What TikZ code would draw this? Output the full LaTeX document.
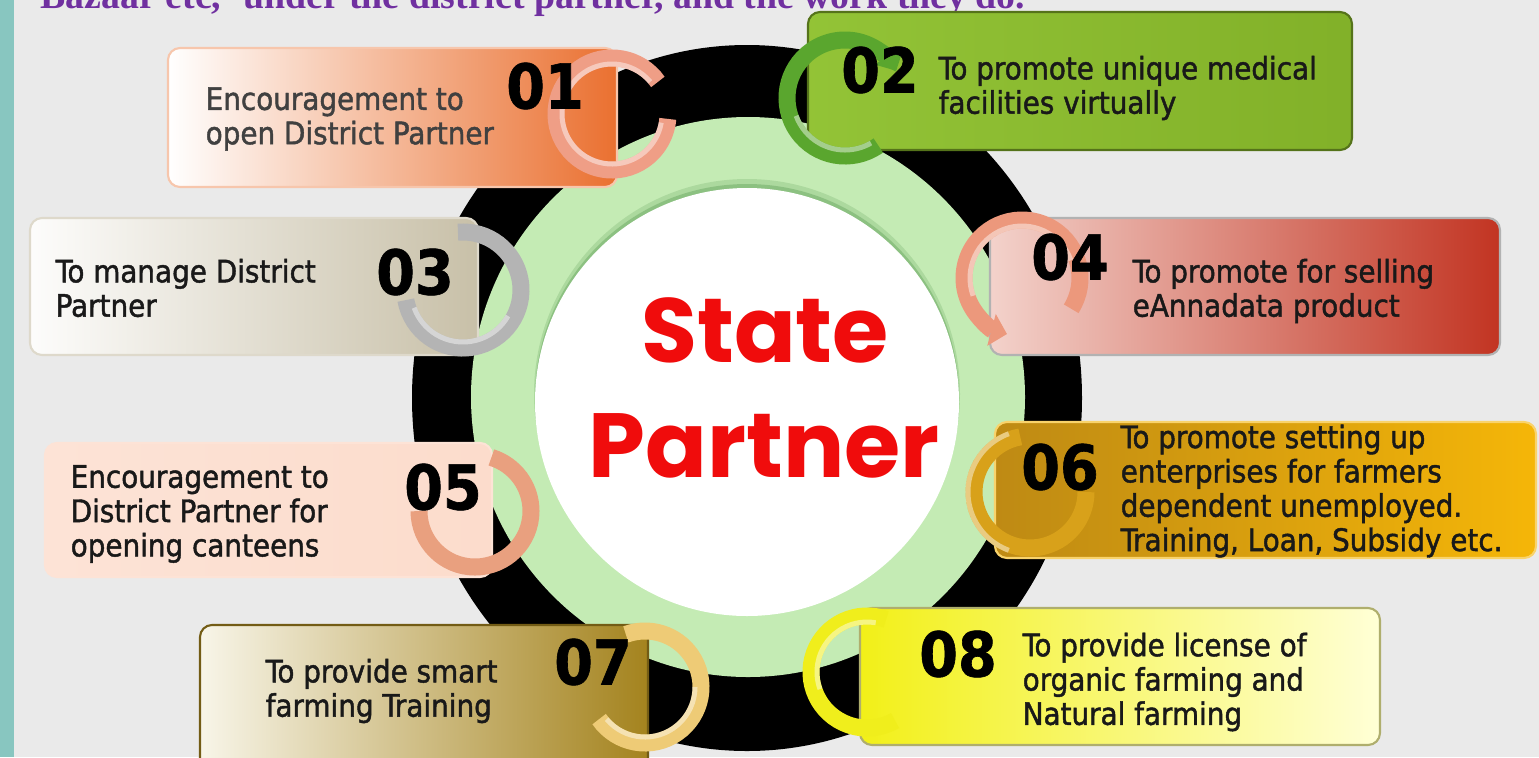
\documentclass[tikz,border=0pt]{standalone}
\usepackage{fontspec}
\usetikzlibrary{arrows.meta}
\newfontfamily\pfont[FakeBold=1.4]{DejaVu Sans Condensed}
\newfontfamily\nfont[BoldFeatures={FakeBold=1}]{DejaVu Sans Condensed}
\newfontfamily\sfont{Poppins}
\newfontfamily\tfont{Liberation Serif}
\definecolor{bggray}{RGB}{234,234,234}
\definecolor{stripteal}{RGB}{136,198,192}
\definecolor{tpurple}{RGB}{112,48,160}
\definecolor{sred}{RGB}{240,12,12}
\definecolor{ringgreen}{RGB}{196,235,180}
\definecolor{porange}{RGB}{234,112,48}
\definecolor{pgreen}{RGB}{141,192,44}
\definecolor{pbeige}{RGB}{200,192,168}
\definecolor{pred}{RGB}{194,52,34}
\definecolor{ppink}{RGB}{243,210,203}
\definecolor{ppeach}{RGB}{252,220,204}
\definecolor{pgold}{RGB}{245,182,8}
\definecolor{pgolddark}{RGB}{190,138,20}
\definecolor{polive}{RGB}{164,131,30}
\definecolor{pyellow}{RGB}{242,240,24}
\definecolor{pcream}{RGB}{255,255,214}
\definecolor{hoopa}{RGB}{239,158,134}
\definecolor{hoopb}{RGB}{90,166,46}
\definecolor{hoopc}{RGB}{180,180,180}
\definecolor{hoopd}{RGB}{236,152,124}
\definecolor{hoope}{RGB}{233,160,127}
\definecolor{hoopf}{RGB}{216,161,26}
\definecolor{hoopg}{RGB}{238,203,118}
\definecolor{hooph}{RGB}{240,238,28}

\begin{document}
\begin{tikzpicture}[x=0.01cm,y=0.01cm,
  panel/.style={rounded corners=0.12cm, draw=#1, line width=0.6pt},
  ptext/.style={font=\pfont\fontsize{8.8}{9.76}\selectfont, text=black!90, align=left, anchor=west, inner sep=0pt},
  pnum/.style={font=\nfont\bfseries\fontsize{17.6}{18}\selectfont, inner sep=0pt},
  hoop/.style={line width=0.17cm, draw=#1},
  gleam/.style={line width=0.05cm, draw=white, opacity=0.45},
  tip/.style={-{Triangle[length=0.16cm,width=0.32cm]}}]
\clip (0,-757) rectangle (1539,0);
\fill[bggray] (0,-757) rectangle (1539,0);
\fill[stripteal] (0,-757) rectangle (14,0);
\node[anchor=base west, font=\tfont\bfseries\fontsize{10.75}{12}\selectfont, text=tpurple, inner sep=0pt] (title) at (40,-8) {Bazaar etc, ‘under the district partner, and the work they do.};

\fill[black] (747,-398) ellipse [x radius=335, y radius=353];
\fill[ringgreen] (748,-397) ellipse [x radius=277, y radius=280];
\fill[green!35!black, opacity=0.12] (747,-394) ellipse [x radius=213, y radius=215];
\fill[green!35!black, opacity=0.18] (747,-398) ellipse [x radius=212, y radius=214];
\fill[white] (747,-402) ellipse [x radius=212, y radius=214];
\node[anchor=base, font=\sfont\bfseries\fontsize{25.9}{30}\selectfont, text=sred, inner sep=0pt] (state) at (765,-362) {State};
\node[anchor=base, font=\sfont\bfseries\fontsize{25.9}{30}\selectfont, text=sred, inner sep=0pt] (partner) at (764,-477) {Partner};

\shade[panel=porange!40, left color=white, middle color=porange!45, right color=porange] (168,-48) rectangle (617,-187);
\shade[panel=pgreen!60!black, left color=pgreen!95!white, right color=pgreen!92!black] (808,-12) rectangle (1352,-150);
\shade[panel=pbeige!60, left color=white!96!pbeige, right color=pbeige] (30,-218) rectangle (478,-355);
\shade[panel=gray!60, left color=ppink, middle color=pred!45!white, right color=pred] (990,-218) rectangle (1500,-355);
\shade[panel=ppeach!80, left color=ppeach!80!white, right color=ppeach] (45,-443) rectangle (492,-577);
\shade[panel=pgold!60!white, left color=pgolddark, right color=pgold] (995,-422) rectangle (1536,-558);
\shade[panel=polive!70!black, left color=pcream!60!polive!20, middle color=polive!85!white, right color=polive] (200,-625) rectangle (648,-770);
\shade[panel=pyellow!50!black!60, left color=pyellow, right color=pcream] (860,-608) rectangle (1380,-745);

\draw[hoop=hoopa] (612,-114) ++(35:56) arc[start angle=35, end angle=355, radius=56];
\draw[gleam] (612,-114) ++(40:50) arc[start angle=40, end angle=350, radius=50];
\draw[hoop=hoopb, tip] (845,-98) ++(305:58) arc[start angle=305, end angle=28, radius=58];
\draw[gleam] (845,-98) ++(300:52) arc[start angle=300, end angle=200, radius=52];
\draw[hoop=hoopc] (463,-290) ++(190:58) arc[start angle=190, end angle=455, radius=58];
\draw[gleam] (463,-290) ++(200:52) arc[start angle=200, end angle=330, radius=52];
\draw[hoop=hoopd, tip] (1022,-278) ++(-32:58) arc[start angle=-32, end angle=255, radius=58];
\draw[gleam] (1022,-278) ++(20:52) arc[start angle=20, end angle=200, radius=52];
\draw[hoop=hoope] (475,-511) ++(180:56) arc[start angle=180, end angle=433, radius=56];
\draw[hoop=hoopf] (1030,-492) ++(100:56) arc[start angle=100, end angle=360, radius=56];
\draw[gleam] (1030,-492) ++(110:62) arc[start angle=110, end angle=250, radius=62];
\draw[hoop=hoopg] (645,-687) ++(-145:56) arc[start angle=-145, end angle=110, radius=56];
\draw[gleam] (645,-687) ++(-140:50) arc[start angle=-140, end angle=0, radius=50];
\draw[hoop=hooph] (867,-672) ++(70:56) arc[start angle=70, end angle=300, radius=56];
\draw[gleam] (867,-672) ++(80:50) arc[start angle=80, end angle=200, radius=50];

\node[pnum] (n1) at (545,-86) {01};
\node[pnum] (n2) at (880,-70) {02};
\node[pnum] (n3) at (415,-272) {03};
\node[pnum] (n4) at (1070,-257) {04};
\node[pnum] (n5) at (443,-487) {05};
\node[pnum] (n6) at (1060,-467) {06};
\node[pnum] (n7) at (593,-662) {07};
\node[pnum] (n8) at (958,-654) {08};

\node[ptext, text=black!75] (t1) at (205,-119) {Encouragement to\\open District Partner};
\node[ptext] (t2) at (938,-88) {To promote unique medical\\facilities virtually};
\node[ptext] (t3) at (55,-288) {To manage District\\Partner};
\node[ptext] (t4) at (1132,-291) {To promote for selling\\eAnnadata product};
\node[ptext] (t5) at (70,-514) {Encouragement to\\District Partner for\\opening canteens};
\node[ptext] (t6) at (1120,-491) {To promote setting up\\enterprises for farmers\\dependent unemployed.\\Training, Loan, Subsidy etc.};
\node[ptext] (t7) at (265,-691) {To provide smart\\farming Training};
\node[ptext] (t8) at (1022,-682) {To provide license of\\organic farming and\\Natural farming};
\end{tikzpicture}
\end{document}
